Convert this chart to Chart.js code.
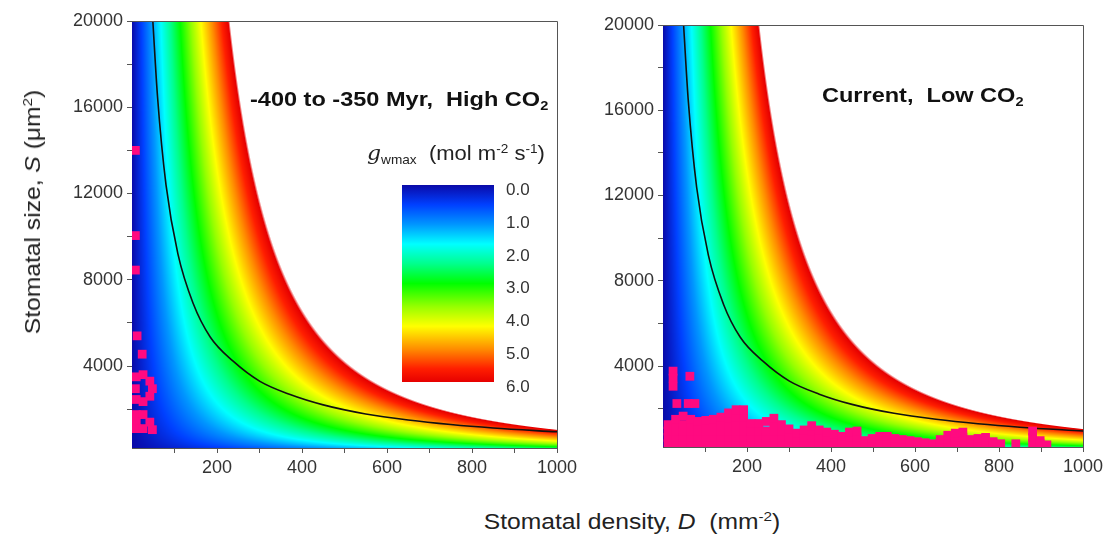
<!DOCTYPE html>
<html>
<head>
<meta charset="utf-8">
<script src="https://cdn.jsdelivr.net/npm/chart.js@4.4.1/dist/chart.umd.min.js"></script>
<style>
  body { margin: 0; background: #fff; width: 1111px; height: 535px; overflow: hidden; position: relative;
         font-family: "Liberation Sans", Arial, sans-serif; color: #222; }
  canvas { position: absolute; top: 0; }
  .txt { position: absolute; white-space: nowrap; transform-origin: 0 50%; }
  .txt sup, .txt sub { font-size: 62%; position: relative; vertical-align: baseline; }
  .txt sup { top: -0.6em; }
  .txt sub { top: 0.3em; }
  #ytitle { left: 33px; top: 212px; font-size: 22px; transform-origin: 50% 50%;
            transform: translate(-50%, -50%) rotate(-90deg) scaleX(1.12); }
  #xtitle { left: 632px; top: 522px; font-size: 22px; transform-origin: 50% 50%;
            transform: translate(-50%, -50%) scaleX(1.12); }
  .note { font-size: 21px; font-weight: bold; color: #111; transform: scaleX(1.12); }
  #cbar { position: absolute; left: 402px; top: 185px; width: 92px; height: 197px; }
  #cbtitle { left: 367px; top: 141px; font-size: 20px; transform: scaleX(1.1); }
  .cblab { position: absolute; left: 506px; font-size: 17px; color: #333; transform: translateY(-50%); }
</style>
</head>
<body>
<canvas id="pastChart" width="582" height="480" style="left:0"></canvas>
<canvas id="nowChart" width="521" height="480" style="left:590px"></canvas>

<div id="ytitle" class="txt">Stomatal size, <i>S</i> (μm<sup>2</sup>)</div>
<div id="xtitle" class="txt">Stomatal density, <i>D</i>&nbsp; (mm<sup>-2</sup>)</div>
<div class="txt note" style="left:250px; top:87px">-400 to -350 Myr,&nbsp; High CO<sub>2</sub></div>
<div class="txt note" style="left:822px; top:83px">Current,&nbsp; Low CO<sub>2</sub></div>
<div id="cbtitle" class="txt"><i style="font-family:'DejaVu Serif',serif">g</i><sub>wmax</sub>&nbsp; (mol m<sup>-2</sup> s<sup>-1</sup>)</div>
<div id="cbar"></div>

<script>
// axis ticks: labelled ones and the minor ones in between
const densityTicks = [200, 400, 600, 800, 1000];
const densityMinor = [100, 300, 500, 700, 900];
const sizeTicks = [4000, 8000, 12000, 16000, 20000];
const sizeMinor = [2000, 6000, 10000, 14000, 18000];

// gwmax colour scale (mol m-2 s-1)
const gLabels = [0, 1, 2, 3, 4, 5, 6];
const gStops = [0, 0.6, 1.2, 1.8, 2.4, 3.0, 3.7, 4.3, 5.0, 5.6, 6.0];
const gColours = ['#0a0aa8', '#0040ff', '#0096ff', '#00ffff', '#00ff8c', '#00ff00',
                  '#96ff00', '#ffff00', '#ff8c00', '#ff1e00', '#e60000'];
// where the 6.0 edge of the field meets the top of the plot
const edgeD = 226, edgeS = 20000, gTop = 6;

// black limit curve (D in mm-2, S in um2)
const limitD = [49, 60, 80, 108, 144, 184, 238, 301, 372, 450, 550, 650, 750, 850, 1000];
const limitS = [20000, 16500, 12400, 9200, 6900, 5350, 4225, 3290, 2680, 2200, 1780, 1500, 1290, 1130, 950];

// -400 to -350 Myr measurements [D, S]
const pastPoints = [
  [8, 14000], [8, 10050], [8, 8450], [12, 5400], [24, 4550],
  [10, 3500], [26, 3600], [42, 3300], [48, 2950], [42, 2600], [26, 2350], [10, 2450], [8, 2950],
  [10, 1750], [26, 1750], [42, 1400], [10, 1400], [10, 1100], [26, 1100], [48, 1050]
];

// current measurements [D, S]
const nowPoints = [
  [24, 3760], [24, 3430], [24, 3050], [64, 3520], [33, 2240], [60, 2240], [76, 2240],
  [12, 350], [12, 650], [12, 950], [12, 1250],
  [30, 350], [30, 650], [30, 950], [30, 1250], [30, 1500],
  [48, 350], [48, 650], [48, 950], [48, 1250], [48, 1650],
  [66, 350], [66, 650], [66, 950], [66, 1250], [66, 1500],
  [84, 350], [84, 650], [84, 950], [84, 1250], [84, 1400],
  [102, 350], [102, 650], [102, 950], [102, 1250], [102, 1450],
  [120, 350], [120, 650], [120, 950], [120, 1250], [120, 1500],
  [138, 350], [138, 650], [138, 950], [138, 1250], [138, 1600],
  [156, 350], [156, 650], [156, 950], [156, 1250], [156, 1550], [156, 1800],
  [174, 350], [174, 650], [174, 950], [174, 1250], [174, 1600], [174, 1950],
  [192, 350], [192, 650], [192, 950], [192, 1250], [192, 1600], [192, 1950],
  [210, 350], [210, 650], [210, 950], [210, 1300],
  [228, 350], [228, 650], [228, 950], [228, 1300],
  [246, 350], [246, 650], [246, 950], [246, 1400],
  [264, 350], [264, 650], [264, 950], [264, 1250], [264, 1550],
  [282, 350], [282, 650], [282, 950], [282, 1250],
  [300, 350], [300, 650], [300, 1050],
  [318, 350], [318, 650], [318, 850],
  [336, 350], [336, 650], [336, 1000],
  [354, 350], [354, 650], [354, 950], [354, 1200],
  [372, 350], [372, 650], [372, 1000],
  [390, 350], [390, 650], [390, 900],
  [408, 350], [408, 650], [408, 800],
  [426, 350], [426, 700],
  [444, 350], [444, 650], [444, 900],
  [462, 350], [462, 650], [462, 950],
  [480, 350], [480, 500],
  [498, 350], [498, 600],
  [516, 350], [516, 700],
  [534, 350], [534, 700],
  [552, 350], [552, 600],
  [570, 350], [570, 550],
  [588, 350], [588, 500],
  [606, 350], [606, 450],
  [624, 350], [624, 400],
  [642, 350],
  [660, 350], [660, 550],
  [678, 350], [678, 550], [678, 750],
  [696, 350], [696, 650], [696, 850],
  [714, 350], [714, 650], [714, 900],
  [732, 350], [732, 550],
  [750, 350], [750, 600],
  [768, 350], [768, 650],
  [786, 350], [786, 450],
  [804, 350],
  [840, 350],
  [880, 350], [880, 650], [880, 950],
  [898, 350], [898, 500],
  [914, 300]
];

const FONT = "'Liberation Sans', Arial, sans-serif";
const AXIS = '#555';
const PINK = '#ff0a80';

function hexRgb(h) {
  return [parseInt(h.slice(1, 3), 16), parseInt(h.slice(3, 5), 16), parseInt(h.slice(5, 7), 16)];
}
const stopRgb = gColours.map(hexRgb);

function colourAt(g) {
  if (g <= gStops[0]) return stopRgb[0];
  for (let k = 1; k < gStops.length; k++) {
    if (g <= gStops[k]) {
      const t = (g - gStops[k - 1]) / (gStops[k] - gStops[k - 1]);
      const a = stopRgb[k - 1], b = stopRgb[k];
      return [a[0] + (b[0] - a[0]) * t, a[1] + (b[1] - a[1]) * t, a[2] + (b[2] - a[2]) * t];
    }
  }
  return stopRgb[stopRgb.length - 1];
}

// gwmax grows with D * sqrt(S); scaled so the 6.0 contour passes through (edgeD, edgeS)
function gAt(D, S) {
  return gTop * D * Math.sqrt(Math.max(S, 0)) / (edgeD * Math.sqrt(edgeS));
}

// paints the gwmax field under the datasets
const fieldPlugin = {
  id: 'gwField',
  beforeDatasetsDraw(chart) {
    const { ctx, chartArea: a, scales: { x, y } } = chart;
    const w = Math.round(a.right - a.left), h = Math.round(a.bottom - a.top);
    const off = document.createElement('canvas');
    off.width = w; off.height = h;
    const octx = off.getContext('2d');
    const img = octx.createImageData(w, h);
    for (let j = 0; j < h; j++) {
      const S = y.getValueForPixel(a.top + j + 0.5);
      for (let i = 0; i < w; i++) {
        const D = x.getValueForPixel(a.left + i + 0.5);
        const g = gAt(D, S);
        let alpha = 255;
        if (g > gTop) {
          const f = (g - gTop) / 0.12;
          if (f >= 1) continue;
          alpha = 255 * (1 - f);
        }
        const c = colourAt(Math.min(g, gTop));
        const p = (j * w + i) * 4;
        img.data[p] = c[0]; img.data[p + 1] = c[1]; img.data[p + 2] = c[2]; img.data[p + 3] = alpha;
      }
    }
    octx.putImageData(img, 0, 0);
    ctx.drawImage(off, a.left, a.top);
  }
};

// closes the box on the top and right
const framePlugin = {
  id: 'frame',
  afterDatasetsDraw(chart) {
    const { ctx, chartArea: a } = chart;
    ctx.save();
    ctx.strokeStyle = AXIS;
    ctx.lineWidth = 1;
    ctx.beginPath();
    ctx.moveTo(Math.round(a.left), Math.round(a.top) + 0.5);
    ctx.lineTo(Math.round(a.right) + 0.5, Math.round(a.top) + 0.5);
    ctx.lineTo(Math.round(a.right) + 0.5, Math.round(a.bottom));
    ctx.stroke();
    ctx.restore();
  }
};

function tickList(major, minor) {
  return major.concat(minor).sort((a, b) => a - b).map(v => ({ value: v }));
}

function makeChart(id, points, yWidth, pad) {
  const ctx = document.getElementById(id).getContext('2d');
  return new Chart(ctx, {
    type: 'scatter',
    data: {
      datasets: [{
        data: points.map(p => ({ x: p[0], y: p[1] })),
        pointStyle: 'rect',
        pointRadius: 6.2,
        borderWidth: 0,
        backgroundColor: PINK,
        order: 0
      }, {
        type: 'line',
        data: limitD.map((d, i) => ({ x: d, y: limitS[i] })),
        borderColor: '#111',
        borderWidth: 1.6,
        pointRadius: 0,
        fill: false,
        cubicInterpolationMode: 'monotone',
        order: 1
      }]
    },
    options: {
      responsive: false,
      animation: false,
      layout: { padding: pad },
      plugins: { legend: { display: false }, tooltip: { enabled: false } },
      scales: {
        x: {
          type: 'linear', min: 0, max: 1000,
          afterBuildTicks(s) { s.ticks = tickList(densityTicks, densityMinor); },
          ticks: {
            autoSkip: false, maxRotation: 0, padding: 4,
            color: '#333', font: { family: FONT, size: 18 },
            callback: v => densityTicks.includes(v) ? String(v) : ''
          },
          grid: { drawOnChartArea: false, tickLength: 5, color: AXIS },
          border: { color: AXIS, width: 1 },
          afterFit(s) { s.height = 32; }
        },
        y: {
          type: 'linear', min: 200, max: 20000,
          afterBuildTicks(s) { s.ticks = tickList(sizeTicks, sizeMinor); },
          ticks: {
            autoSkip: false, padding: 4,
            color: '#333', font: { family: FONT, size: 18 },
            callback: v => sizeTicks.includes(v) ? String(v) : ''
          },
          grid: { drawOnChartArea: false, tickLength: 5, color: AXIS },
          border: { color: AXIS, width: 1 },
          afterFit(s) { s.width = yWidth; }
        }
      }
    },
    plugins: [fieldPlugin, framePlugin]
  });
}

makeChart('pastChart', pastPoints, 132, { top: 21, right: 25, bottom: 0, left: 0 });
makeChart('nowChart', nowPoints, 73, { top: 25, right: 28, bottom: 1, left: 0 });

// colour bar legend built from the same scale
const bar = document.getElementById('cbar');
bar.style.background = 'linear-gradient(to bottom, ' +
  gColours.map((c, i) => c + ' ' + (gStops[i] / gTop * 100).toFixed(1) + '%').join(', ') + ')';
gLabels.forEach((g, i) => {
  const el = document.createElement('div');
  el.className = 'cblab';
  el.textContent = g.toFixed(1);
  el.style.top = (190 + i * 32.8) + 'px';
  document.body.appendChild(el);
});
</script>
</body>
</html>
